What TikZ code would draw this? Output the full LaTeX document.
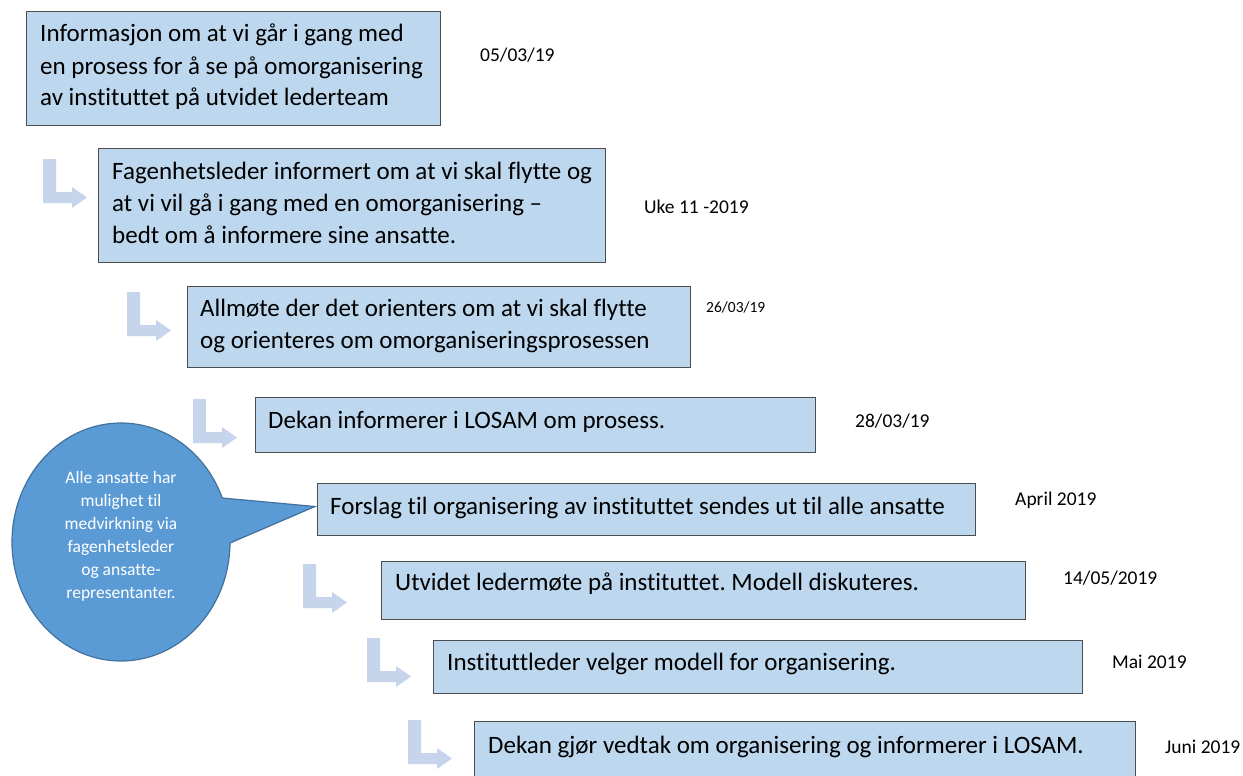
\documentclass[tikz,border=0pt]{standalone}
\usepackage{fontspec}
\setmainfont{Carlito}[Ligatures=NoCommon]
\frenchspacing
\usetikzlibrary{calc}
\definecolor{boxfill}{HTML}{BDD7EE}
\definecolor{boxline}{HTML}{4D4D4D}
\definecolor{arrowfill}{HTML}{C6D5EB}
\definecolor{bubblefill}{HTML}{5B9BD5}
\definecolor{bubbleline}{HTML}{41719C}
\begin{document}
\begin{tikzpicture}[x=1pt,y=1pt,
  stepbox/.style={draw=boxline, line width=1pt, fill=boxfill, anchor=north west, inner sep=0pt},
  boxtext/.style={anchor=base west, align=left, inner sep=0pt, font=\fontsize{25}{32}\selectfont},
  datetext/.style={anchor=base west, inner sep=0pt, font=\fontsize{19.5}{23}\selectfont},
  smalldate/.style={anchor=base west, inner sep=0pt, font=\fontsize{15.5}{19}\selectfont},
  bubbletext/.style={align=center, inner sep=0pt, text=white, font=\fontsize{17.5}{23}\selectfont},
  bubble/.style={fill=bubblefill, draw=bubbleline, line width=1.2pt},
  larrow/.pic={\fill[arrowfill] (0,0) -- (13,0) -- (13,-33) -- (29,-33) -- (29,-28) -- (44,-38.5) -- (29,-49) -- (29,-44) -- (0,-44) -- cycle;}
]
\clip (0,0) rectangle (1243,-776);
\fill[white] (0,0) rectangle (1243,-776);

% boxes
\node[stepbox, minimum width=414pt, minimum height=114pt] (b1) at (26,-11) {};
\node[stepbox, minimum width=507pt, minimum height=114pt] (b2) at (98,-148) {};
\node[stepbox, minimum width=503pt, minimum height=81pt] (b3) at (187,-286) {};
\node[stepbox, minimum width=560pt, minimum height=55pt] (b4) at (255,-397) {};
\node[stepbox, minimum width=658pt, minimum height=52pt] (b5) at (317,-483) {};
\node[stepbox, minimum width=644pt, minimum height=58pt] (b6) at (381,-561) {};
\node[stepbox, minimum width=649pt, minimum height=53pt] (b7) at (433,-640) {};
\node[stepbox, minimum width=661pt, minimum height=70pt] (b8) at (474,-721) {};

% box texts (base anchor = baseline of last line)
\node[boxtext] (t1) at ($(b1.north west)+(14,-95)$) {Informasjon om at vi går i gang med\\en prosess for å se på omorganisering\\av instituttet på utvidet lederteam};
\node[boxtext] (t2) at ($(b2.north west)+(14,-95)$) {Fagenhetsleder informert om at vi skal flytte og\\at vi vil gå i gang med en omorganisering –\\bedt om å informere sine ansatte.};
\node[boxtext] (t3) at ($(b3.north west)+(13,-62)$) {Allmøte der det orienters om at vi skal flytte\\og orienteres om omorganiseringsprosessen};
\node[boxtext] (t4) at ($(b4.north west)+(13,-31)$) {Dekan informerer i LOSAM om prosess.};
\node[boxtext] (t5) at ($(b5.north west)+(13,-31)$) {Forslag til organisering av instituttet sendes ut til alle ansatte};
\node[boxtext] (t6) at ($(b6.north west)+(14,-29)$) {Utvidet ledermøte på instituttet. Modell diskuteres.};
\node[boxtext] (t7) at ($(b7.north west)+(14,-30)$) {Instituttleder velger modell for organisering.};
\node[boxtext] (t8) at ($(b8.north west)+(14,-32)$) {Dekan gjør vedtak om organisering og informerer i LOSAM.};

% dates
\node[datetext] (d1) at (480,-62) {05/03/19};
\node[datetext] (d2) at (644,-213) {Uke 11 -2019};
\node[smalldate] (d3) at (706,-312) {26/03/19};
\node[datetext] (d4) at (855,-427) {28/03/19};
\node[datetext] (d5) at (1015,-505) {April 2019};
\node[datetext] (d6) at (1063,-584) {14/05/2019};
\node[datetext] (d7) at (1112,-668) {Mai 2019};
\node[datetext] (d8) at (1165,-753) {Juni 2019};

% bent arrows
\pic at (43,-159) {larrow};
\pic at (127,-292) {larrow};
\pic at (193,-399) {larrow};
\pic at (303,-564) {larrow};
\pic at (367,-638) {larrow};
\pic at (408,-720) {larrow};

% callout bubble
\coordinate (bc) at (121,-542);
\coordinate (tip) at ($(b5.west)+(-2,3)$);
\path[bubble] ($(bc)+(21.7:109 and 119)$) -- (tip) -- ($(bc)+(-0.5:109 and 119)$)
  arc[start angle=-0.5, end angle=-338.3, x radius=109, y radius=119] -- cycle;
\node[bubbletext] (bt) at (121,-536) {Alle ansatte har\\mulighet til\\medvirkning via\\fagenhetsleder\\og ansatte-\\representanter.};
\end{tikzpicture}
\end{document}
